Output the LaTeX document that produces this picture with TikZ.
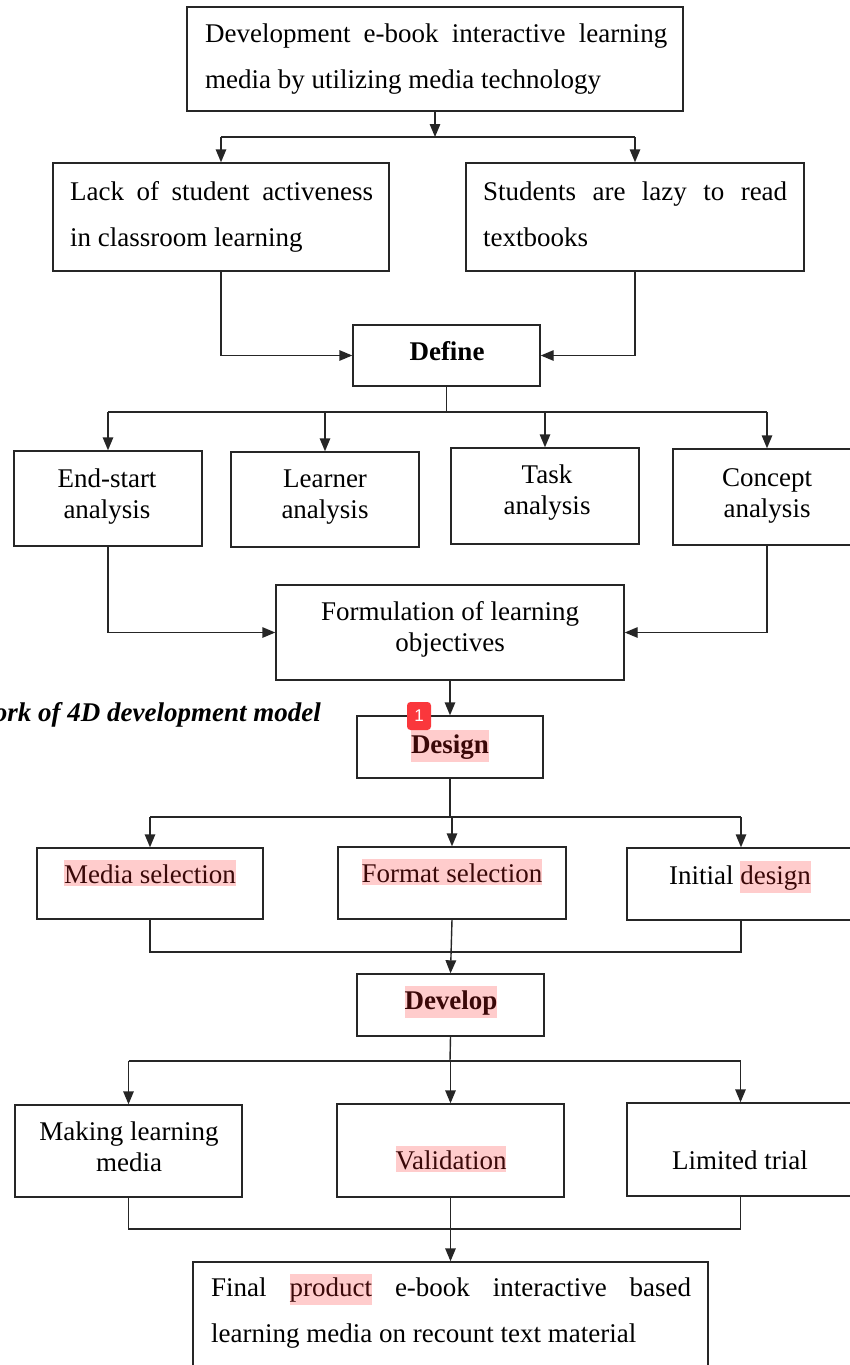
\documentclass[tikz,border=0pt]{standalone}
\usepackage{fontspec}
\setmainfont{Liberation Serif}
\newfontfamily\badgefont{Liberation Sans}
\usetikzlibrary{arrows.meta}
\definecolor{hlpink}{RGB}{255,204,204}
\definecolor{hltext}{RGB}{58,8,8}
\definecolor{badgered}{RGB}{250,55,60}
\newcommand\hl[1]{{\setlength{\fboxsep}{0pt}\colorbox{hlpink}{\raisebox{0pt}[\dimexpr\height+4pt\relax][\dimexpr\depth+3pt\relax]{\rule{0pt}{0.7em}\color{hltext}#1}}}}
\tikzset{
  box/.style={draw=black!85, line width=1.4pt, inner sep=0pt, rectangle},
  txt/.style={inner sep=0pt, font=\fontsize{27}{31}\selectfont, align=center},
  stxt/.style={inner sep=0pt, font=\fontsize{27}{31}\selectfont, anchor=base},
  bld/.style={inner sep=0pt, font=\fontsize{27}{31}\selectfont\bfseries, anchor=base},
  ptxt/.style={inner sep=0pt, font=\fontsize{27}{46}\selectfont, align=left, anchor=west},
  conn/.style={line width=1.4pt, draw=black!85},
  arr/.style={conn, -{Triangle[length=13pt,width=10.5pt]}}
}
\begin{document}
\begin{tikzpicture}[x=1pt,y=-1pt]
\useasboundingbox (0,0) rectangle (850,1365);
\clip (0,0) rectangle (850,1365);
% boxes
\node[box, minimum width=496, minimum height=104] (top) at (435,59) {};
\node[box, minimum width=336, minimum height=108] (lack) at (221,217) {};
\node[box, minimum width=338, minimum height=108] (lazy) at (635,217) {};
\node[box, minimum width=187, minimum height=61] (define) at (446.5,355.5) {};
\node[box, minimum width=188, minimum height=95] (endstart) at (108,498.5) {};
\node[box, minimum width=188, minimum height=95] (learner) at (325,499.5) {};
\node[box, minimum width=188, minimum height=96] (task) at (545,496) {};
\node[box, minimum width=188, minimum height=96] (concept) at (767,497) {};
\node[box, minimum width=348, minimum height=95] (formul) at (450,632.5) {};
\node[box, minimum width=186, minimum height=62] (design) at (450,747) {};
\node[box, minimum width=226, minimum height=71] (media) at (150,883.5) {};
\node[box, minimum width=228, minimum height=72] (format) at (452,883) {};
\node[box, minimum width=228, minimum height=72] (initial) at (741,884) {};
\node[box, minimum width=187, minimum height=62] (develop) at (450.5,1005) {};
\node[box, minimum width=227, minimum height=92] (making) at (128.5,1151) {};
\node[box, minimum width=227, minimum height=93] (valid) at (450.5,1150.5) {};
\node[box, minimum width=227, minimum height=93] (limited) at (740.5,1149.5) {};
\node[box, minimum width=515, minimum height=118] (final) at (450.5,1321) {};
% texts
\node[ptxt] (toptxt) at (205,59) {\makebox[462pt][s]{Development e-book interactive learning}\\media by utilizing media technology};
\node[ptxt] (lacktxt) at (70,217) {\makebox[303pt][s]{Lack of student activeness}\\in classroom learning};
\node[ptxt] (lazytxt) at (483,214) {\makebox[304pt][s]{Students are lazy to read}\\textbooks};
\node[bld] (definetxt) at (447,360) {Define};
\node[txt] (endstarttxt) at (107,496.5) {End-start\\analysis};
\node[txt] (learnertxt) at (325,497.5) {Learner\\analysis};
\node[txt] (tasktxt) at (547,492.5) {Task\\analysis};
\node[txt] (concepttxt) at (767,495.5) {Concept\\analysis};
\node[txt] (formultxt) at (450,629.5) {Formulation of learning\\objectives};
\node[bld] (designtxt) at (450,753) {\hl{Design}};
\node[stxt] (mediatxt) at (150,883) {\hl{Media selection}};
\node[stxt] (formattxt) at (452,882) {\hl{Format selection}};
\node[stxt] (initialtxt) at (740,884) {Initial \hl{design}};
\node[bld] (developtxt) at (451,1009) {\hl{Develop}};
\node[txt] (makingtxt) at (129,1146.5) {Making learning\\media};
\node[stxt] (validtxt) at (451,1169) {\hl{Validation}};
\node[stxt] (limitedtxt) at (740,1169) {Limited trial};
\node[ptxt] (finaltxt) at (211,1311) {\makebox[480pt][s]{Final \hl{product} e-book interactive based}\\learning media on recount text material};
% caption fragment
\node[anchor=east, inner sep=0pt, font=\fontsize{27}{27}\selectfont\bfseries\itshape] (cap) at (321,715) {ork of 4D development model};
% connectors
\coordinate (j1) at (435,137);
\draw[arr] (top.south) -- (j1);
\draw[conn] (lack.north |- j1) -- (lazy.north |- j1);
\draw[arr] (lack.north |- j1) -- (lack.north);
\draw[arr] (lazy.north |- j1) -- (lazy.north);
\draw[arr] (lack.south) |- (define.west);
\draw[arr] (lazy.south) |- (define.east);
\coordinate (j2) at (445,412);
\draw[conn] (define.south) -- (define.south |- j2);
\draw[conn] (endstart.north |- j2) -- (concept.north |- j2);
\foreach \n in {endstart,learner,task,concept}{\draw[arr] (\n.north |- j2) -- (\n.north);}
\draw[arr] (endstart.south) |- (formul.west);
\draw[arr] (concept.south) |- (formul.east);
\draw[arr] (formul.south) -- (design.north);
\coordinate (j3) at (450,817);
\draw[conn] (design.south) -- (j3);
\draw[conn] (media.north |- j3) -- (initial.north |- j3);
\foreach \n in {media,format,initial}{\draw[arr] (\n.north |- j3) -- (\n.north);}
\coordinate (j4) at (450,952);
\draw[conn] (media.south) |- (j4) -| (initial.south);
\draw[arr] (format.south) -- (develop.north);
\coordinate (j5) at (450,1061);
\draw[conn] (develop.south) -- (j5);
\draw[conn] (making.north |- j5) -- (limited.north |- j5);
\foreach \n in {making,valid,limited}{\draw[arr] (\n.north |- j5) -- (\n.north);}
\coordinate (j6) at (450,1229);
\draw[conn] (making.south) |- (j6) -| (limited.south);
\draw[arr] (valid.south) -- (final.north);
\node[fill=badgered, rounded corners=3.5pt, minimum width=24, minimum height=28, inner sep=0pt, text=white, font=\badgefont\fontsize{17}{17}\selectfont] (badge) at (419,716) {1};
\end{tikzpicture}
\end{document}
